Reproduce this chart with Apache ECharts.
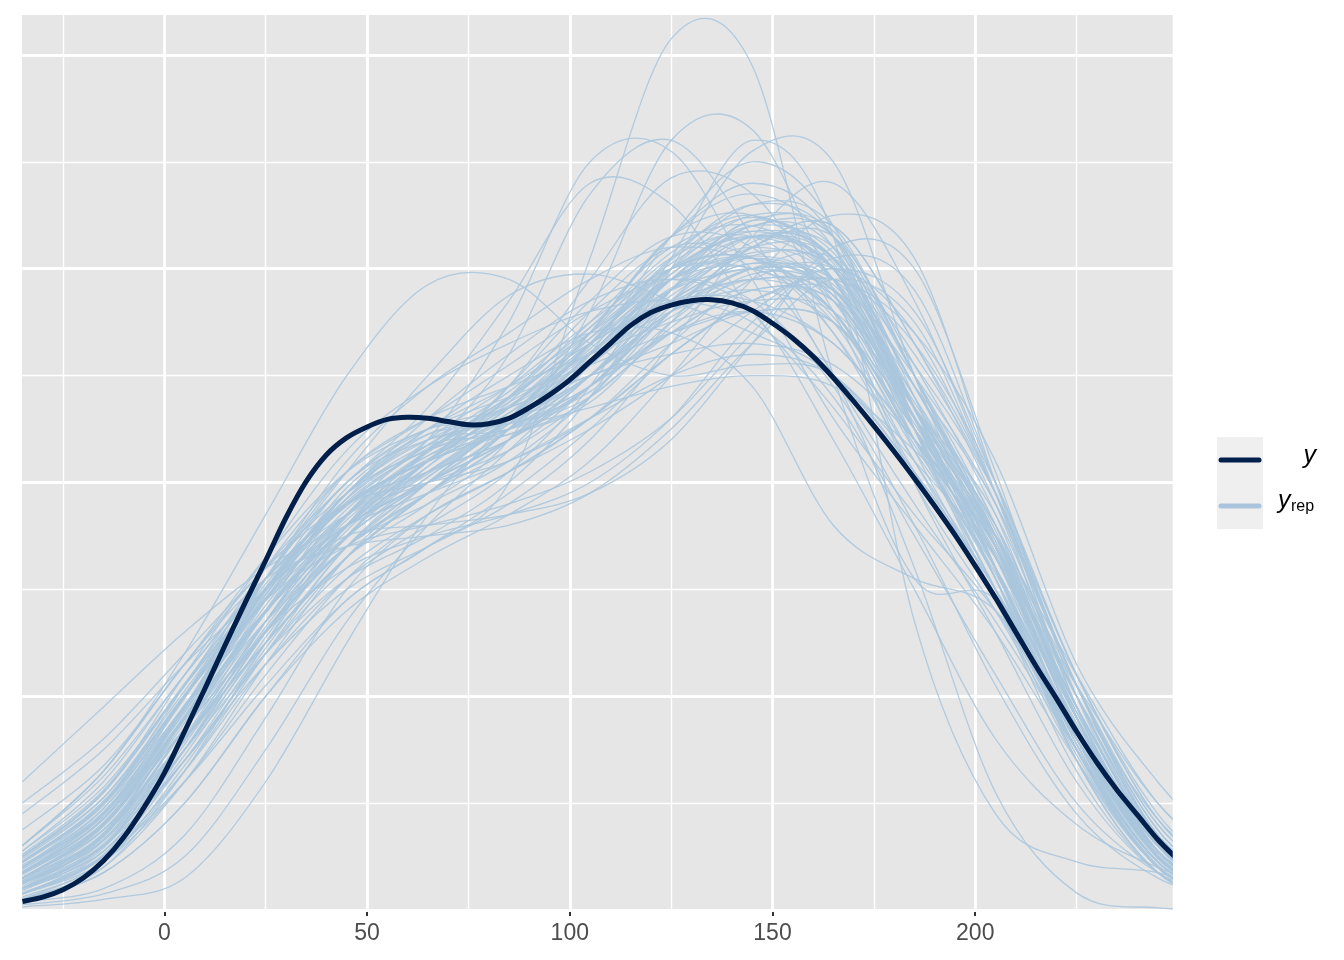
<!DOCTYPE html>
<html>
<head>
<meta charset="utf-8">
<title>y vs y_rep density overlay</title>
<script src="https://cdn.jsdelivr.net/npm/echarts@6/dist/echarts.min.js"></script>
<style>
    html, body { margin: 0; padding: 0; background: #ffffff; }
    #chart { width: 1344px; height: 960px; }
</style>
</head>
<body>
<div id="chart"></div>
<script>
// observed density (y), density x 1000, every 5 units
var xsY = [-35, -30, -25, -20, -15, -10, -5, 0, 5, 10, 15, 20, 25, 30, 35, 40, 45, 50, 55, 60,
    65, 70, 75, 80, 85, 90, 95, 100, 105, 110, 115, 120, 125, 130, 135, 140, 145, 150, 155, 160,
    165, 170, 175, 180, 185, 190, 195, 200, 205, 210, 215, 220, 225, 230, 235, 240, 245, 250];
var yObs = [0.08, 0.12, 0.19, 0.30, 0.46, 0.68, 0.96, 1.28, 1.67, 2.07, 2.48, 2.88, 3.27, 3.67, 4.01, 4.26, 4.42, 4.52, 4.59, 4.61,
    4.60, 4.57, 4.54, 4.55, 4.60, 4.70, 4.82, 4.96, 5.13, 5.30, 5.47, 5.59, 5.66, 5.70, 5.71, 5.68, 5.61, 5.49, 5.35, 5.18,
    4.98, 4.76, 4.53, 4.29, 4.04, 3.78, 3.51, 3.22, 2.92, 2.60, 2.28, 1.98, 1.67, 1.38, 1.12, 0.89, 0.66, 0.47];

// replicated densities (y_rep), every 20 units
var xsRep = [-35, -15, 5, 25, 45, 65, 85, 105, 125, 145, 165, 185, 205, 225, 245, 265];

var repCore = [
    [0.30, 0.80, 1.80, 2.80, 3.60, 4.10, 4.60, 5.30, 6.00, 6.30, 5.90, 4.50, 3.20, 1.70, 0.60, 0.15],
    [0.20, 0.60, 1.60, 2.70, 3.70, 4.30, 4.70, 5.20, 5.80, 6.10, 5.80, 4.60, 3.40, 1.80, 0.55, 0.10],
    [0.45, 1.00, 2.00, 3.00, 3.80, 4.20, 4.50, 5.00, 5.60, 5.90, 5.60, 4.40, 3.30, 1.80, 0.60, 0.15],
    [0.15, 0.50, 1.40, 2.50, 3.50, 4.20, 4.80, 5.50, 6.20, 6.40, 5.90, 4.40, 3.00, 1.50, 0.45, 0.08],
    [0.35, 0.90, 1.90, 3.00, 3.90, 4.40, 4.70, 5.00, 5.30, 5.60, 5.50, 4.60, 3.60, 2.00, 0.70, 0.15],
    [0.25, 0.70, 1.70, 2.90, 3.90, 4.50, 4.90, 5.40, 5.90, 6.00, 5.50, 4.20, 2.90, 1.50, 0.45, 0.08],
    [0.50, 1.10, 2.10, 3.10, 3.80, 4.10, 4.40, 4.90, 5.70, 6.30, 6.10, 4.70, 3.20, 1.50, 0.40, 0.07],
    [0.10, 0.45, 1.30, 2.40, 3.40, 4.00, 4.60, 5.40, 6.30, 6.70, 6.20, 4.60, 3.10, 1.50, 0.40, 0.06],
    [0.30, 0.80, 1.80, 2.90, 3.70, 4.10, 4.40, 4.90, 5.60, 6.20, 6.30, 5.10, 3.70, 1.80, 0.50, 0.08],
    [0.20, 0.65, 1.70, 2.80, 3.60, 4.20, 4.90, 5.70, 6.30, 6.20, 5.40, 4.10, 2.90, 1.60, 0.55, 0.12],
    [0.55, 1.20, 2.20, 3.10, 3.70, 4.00, 4.30, 4.80, 5.40, 5.80, 5.70, 4.70, 3.60, 2.00, 0.70, 0.15],
    [0.15, 0.55, 1.50, 2.60, 3.50, 4.10, 4.60, 5.20, 5.90, 6.40, 6.30, 4.80, 3.20, 1.50, 0.40, 0.06],
    [0.40, 0.95, 1.90, 2.90, 3.70, 4.30, 4.80, 5.30, 5.70, 5.70, 5.30, 4.40, 3.50, 2.10, 0.80, 0.20],
    [0.30, 0.75, 1.60, 2.50, 3.30, 3.90, 4.50, 5.30, 6.10, 6.60, 6.30, 4.70, 3.10, 1.40, 0.35, 0.05],
    [0.20, 0.70, 1.80, 3.00, 4.00, 4.40, 4.60, 5.00, 5.60, 6.00, 5.90, 4.70, 3.40, 1.70, 0.50, 0.10],
    [0.60, 1.30, 2.30, 3.20, 3.80, 4.00, 4.20, 4.60, 5.20, 5.70, 5.80, 4.90, 3.80, 2.10, 0.75, 0.15],
    [0.25, 0.70, 1.60, 2.60, 3.40, 3.80, 4.20, 4.80, 5.60, 6.20, 6.40, 5.30, 3.80, 1.90, 0.55, 0.08],
    [0.10, 0.40, 1.20, 2.30, 3.30, 4.00, 4.60, 5.30, 6.00, 6.50, 6.30, 5.00, 3.50, 1.70, 0.50, 0.08],
    [0.35, 0.85, 1.80, 2.80, 3.60, 4.20, 4.80, 5.60, 6.20, 6.10, 5.40, 4.20, 3.00, 1.60, 0.55, 0.12],
    [0.45, 1.00, 1.90, 2.80, 3.50, 4.00, 4.40, 5.00, 5.70, 6.20, 6.10, 4.90, 3.50, 1.80, 0.55, 0.10],
    [0.30, 0.70, 1.70, 2.70, 3.50, 4.00, 4.50, 5.10, 5.80, 6.30, 6.00, 4.70, 3.40, 1.70, 0.50, 0.08],
    [0.40, 0.90, 1.80, 2.70, 3.40, 3.90, 4.50, 5.30, 6.00, 6.10, 5.60, 4.40, 3.30, 1.80, 0.60, 0.12],
    [0.20, 0.60, 1.50, 2.60, 3.60, 4.30, 4.80, 5.30, 5.70, 5.90, 5.80, 4.70, 3.50, 1.80, 0.55, 0.10],
    [0.35, 0.80, 1.70, 2.60, 3.40, 4.00, 4.60, 5.40, 6.30, 6.80, 6.30, 4.50, 2.90, 1.30, 0.35, 0.05],
    [0.25, 0.70, 1.80, 3.00, 3.90, 4.30, 4.60, 5.10, 5.80, 6.30, 6.00, 4.50, 3.10, 1.60, 0.50, 0.10],
    [0.50, 1.05, 2.00, 2.90, 3.60, 4.00, 4.40, 5.00, 5.80, 6.40, 6.20, 4.70, 3.20, 1.50, 0.40, 0.06],
    [0.15, 0.50, 1.50, 2.70, 3.70, 4.40, 4.90, 5.50, 6.00, 6.00, 5.60, 4.40, 3.30, 1.80, 0.60, 0.12],
    [0.30, 0.75, 1.60, 2.50, 3.30, 3.90, 4.50, 5.20, 5.90, 6.30, 6.10, 4.90, 3.60, 1.80, 0.50, 0.08],
    [0.40, 0.95, 2.00, 3.10, 4.00, 4.50, 4.80, 5.10, 5.40, 5.60, 5.50, 4.50, 3.50, 2.00, 0.70, 0.15],
    [0.20, 0.55, 1.40, 2.40, 3.30, 3.90, 4.40, 5.10, 6.00, 6.60, 6.40, 5.00, 3.40, 1.60, 0.45, 0.07],
    [0.60, 1.25, 2.20, 3.10, 3.80, 4.20, 4.50, 4.90, 5.40, 5.80, 5.70, 4.60, 3.50, 1.90, 0.65, 0.12],
    [0.10, 0.40, 1.30, 2.50, 3.60, 4.30, 4.80, 5.40, 6.00, 6.30, 6.00, 4.70, 3.40, 1.70, 0.50, 0.08],
    [0.35, 0.85, 1.90, 3.00, 3.80, 4.20, 4.50, 5.00, 5.70, 6.00, 5.70, 4.50, 3.40, 1.90, 0.65, 0.15],
    [0.25, 0.65, 1.60, 2.70, 3.60, 4.20, 4.70, 5.30, 5.90, 6.20, 5.90, 4.60, 3.30, 1.60, 0.45, 0.07],
    [0.45, 1.00, 2.00, 3.00, 3.70, 4.10, 4.60, 5.40, 6.30, 6.50, 5.90, 4.30, 2.90, 1.40, 0.40, 0.06],
    [0.30, 0.80, 1.90, 3.10, 4.10, 4.60, 4.90, 5.20, 5.50, 5.70, 5.60, 4.70, 3.70, 2.00, 0.65, 0.12],
    [0.20, 0.60, 1.50, 2.60, 3.40, 3.90, 4.30, 4.90, 5.60, 6.20, 6.40, 5.30, 3.90, 1.90, 0.55, 0.08],
    [0.55, 1.15, 2.10, 3.00, 3.60, 4.00, 4.50, 5.20, 5.90, 6.10, 5.60, 4.30, 3.20, 1.80, 0.60, 0.12]
];

var repCore2 = [
    [0.28, 0.75, 1.75, 2.85, 3.75, 4.25, 4.65, 5.15, 5.75, 6.15, 6.00, 4.80, 3.40, 1.70, 0.50, 0.08],
    [0.38, 0.88, 1.85, 2.95, 3.95, 4.45, 4.55, 4.85, 5.50, 6.00, 5.80, 4.60, 3.30, 1.75, 0.60, 0.12],
    [0.18, 0.58, 1.55, 2.65, 3.55, 4.15, 4.65, 5.25, 5.95, 6.35, 6.10, 4.70, 3.20, 1.55, 0.45, 0.07],
    [0.48, 1.05, 2.05, 3.05, 3.85, 4.35, 4.75, 5.20, 5.60, 5.80, 5.50, 4.50, 3.40, 1.90, 0.65, 0.12],
    [0.22, 0.68, 1.70, 2.80, 3.70, 4.25, 4.45, 4.80, 5.80, 6.45, 6.05, 4.60, 3.10, 1.50, 0.42, 0.06],
    [0.33, 0.82, 1.82, 2.92, 3.82, 4.32, 4.72, 5.22, 5.82, 6.12, 5.82, 4.62, 3.32, 1.72, 0.55, 0.10],
    [0.42, 0.92, 1.92, 2.92, 3.70, 4.20, 4.70, 5.40, 6.10, 6.30, 5.70, 4.40, 3.10, 1.60, 0.50, 0.09],
    [0.26, 0.72, 1.80, 2.95, 3.85, 4.35, 4.45, 4.75, 5.50, 6.25, 6.20, 5.00, 3.60, 1.80, 0.52, 0.08],
    [0.16, 0.52, 1.45, 2.55, 3.50, 4.15, 4.75, 5.45, 6.15, 6.50, 6.00, 4.50, 3.00, 1.45, 0.40, 0.06],
    [0.52, 1.12, 2.12, 3.10, 3.80, 4.20, 4.55, 5.00, 5.55, 5.90, 5.75, 4.70, 3.45, 1.85, 0.62, 0.12],
    [0.24, 0.66, 1.62, 2.80, 3.85, 4.45, 4.60, 4.90, 5.60, 6.12, 6.02, 4.90, 3.55, 1.80, 0.55, 0.09],
    [0.36, 0.86, 1.86, 2.95, 3.80, 4.35, 4.85, 5.45, 6.00, 6.10, 5.55, 4.35, 3.15, 1.70, 0.55, 0.10],
    [0.12, 0.45, 1.35, 2.45, 3.40, 4.05, 4.55, 5.15, 5.90, 6.45, 6.35, 5.00, 3.40, 1.60, 0.45, 0.07],
    [0.44, 0.98, 1.98, 3.10, 4.00, 4.50, 4.55, 4.80, 5.45, 5.95, 5.80, 4.75, 3.50, 1.90, 0.65, 0.13],
    [0.30, 0.78, 1.78, 2.80, 3.65, 4.20, 4.70, 5.35, 6.05, 6.35, 6.00, 4.60, 3.20, 1.60, 0.48, 0.08],
    [0.20, 0.62, 1.58, 2.62, 3.48, 4.05, 4.55, 5.20, 5.95, 6.40, 6.15, 4.90, 3.45, 1.70, 0.50, 0.08],
    [0.40, 0.90, 1.88, 2.98, 3.90, 4.40, 4.50, 4.90, 5.65, 6.05, 5.75, 4.55, 3.35, 1.80, 0.60, 0.12],
    [0.27, 0.72, 1.70, 2.78, 3.68, 4.28, 4.78, 5.35, 5.90, 6.10, 5.75, 4.50, 3.20, 1.65, 0.50, 0.09],
    [0.34, 0.82, 1.78, 2.78, 3.58, 4.08, 4.58, 5.28, 6.08, 6.48, 6.08, 4.68, 3.18, 1.55, 0.45, 0.07],
    [0.46, 1.02, 2.02, 3.02, 3.78, 4.22, 4.60, 5.10, 5.70, 6.05, 5.85, 4.80, 3.50, 1.85, 0.60, 0.11]
];

// draws with a sharp peak
var repPeaked = [
    [0.10, 0.35, 1.00, 2.00, 2.90, 3.40, 4.00, 6.10, 8.15, 7.90, 5.00, 3.10, 2.90, 1.50, 0.40, 0.05],
    [0.20, 0.60, 1.50, 2.50, 3.30, 3.80, 4.40, 5.60, 7.20, 7.30, 5.80, 4.00, 2.60, 1.20, 0.35, 0.05],
    [0.30, 0.80, 1.90, 3.00, 3.80, 4.40, 5.50, 7.00, 7.10, 5.90, 4.60, 3.60, 2.60, 1.40, 0.40, 0.06],
    [0.20, 0.60, 1.60, 2.70, 3.60, 4.30, 5.20, 6.70, 7.20, 6.30, 5.00, 3.80, 2.70, 1.50, 0.45, 0.08],
    [0.15, 0.50, 1.30, 2.30, 3.10, 3.60, 4.10, 4.90, 6.10, 7.20, 6.30, 2.70, 0.90, 0.45, 0.35, 0.10],
    [0.25, 0.65, 1.50, 2.40, 3.10, 3.50, 4.00, 4.80, 6.00, 7.10, 7.00, 5.00, 3.20, 1.40, 0.35, 0.05],
    [0.20, 0.55, 1.40, 2.30, 3.00, 3.40, 3.80, 4.40, 5.30, 6.30, 6.80, 5.70, 3.90, 1.80, 0.50, 0.07],
    [0.30, 0.70, 1.60, 2.60, 3.40, 3.90, 4.40, 5.20, 6.30, 7.00, 6.40, 4.50, 3.00, 1.50, 0.40, 0.06],
    [0.35, 0.85, 1.80, 2.80, 3.60, 4.20, 4.90, 5.90, 6.85, 6.70, 5.60, 4.00, 2.80, 1.50, 0.45, 0.08],
    [0.40, 1.00, 2.10, 3.20, 4.00, 4.70, 5.70, 6.80, 6.60, 5.60, 4.70, 3.70, 2.80, 1.60, 0.50, 0.10],
    [0.60, 1.30, 2.40, 3.70, 5.00, 5.85, 5.90, 5.30, 5.00, 5.10, 5.00, 4.10, 3.00, 1.70, 0.60, 0.15],
    [0.30, 0.80, 1.90, 3.10, 4.10, 5.00, 5.75, 5.95, 5.70, 5.40, 5.00, 4.10, 3.00, 1.60, 0.50, 0.10]
];

// draws with more mass on the left / wide tails
var repLeft = [
    [1.20, 1.90, 2.60, 3.20, 3.60, 3.90, 4.20, 4.60, 5.00, 5.20, 5.00, 4.20, 3.30, 2.10, 1.00, 0.35],
    [1.00, 1.60, 2.40, 3.20, 3.90, 4.30, 4.50, 4.70, 4.90, 5.00, 4.90, 4.30, 3.50, 2.20, 1.00, 0.35],
    [0.90, 1.50, 2.30, 3.00, 3.60, 4.00, 4.40, 4.90, 5.40, 5.60, 5.30, 4.40, 3.40, 2.00, 0.85, 0.25],
    [0.75, 1.35, 2.30, 3.30, 4.10, 4.50, 4.70, 5.00, 5.20, 5.30, 5.10, 4.40, 3.40, 1.90, 0.70, 0.15],
    [0.40, 0.90, 1.90, 3.00, 3.90, 4.60, 5.20, 5.70, 5.90, 5.60, 4.40, 3.00, 1.60, 0.80, 0.40, 0.15],
    [0.30, 0.80, 1.90, 3.10, 4.20, 4.90, 5.40, 5.90, 6.20, 6.00, 5.00, 3.20, 1.10, 0.16, 0.02, 0.00],
    [0.35, 0.90, 2.00, 3.20, 4.10, 4.60, 5.10, 5.60, 5.90, 5.70, 4.90, 3.60, 2.10, 0.90, 0.30, 0.05],
    [0.50, 1.10, 2.20, 3.30, 4.30, 4.90, 5.30, 5.60, 5.70, 5.50, 4.80, 3.50, 2.20, 1.00, 0.35, 0.07],
    [0.40, 0.90, 1.90, 3.00, 3.90, 4.50, 5.00, 5.40, 5.40, 4.90, 3.60, 3.10, 2.80, 1.60, 0.55, 0.10]
];

// draws with more mass on the right
var repRight = [
    [0.03, 0.10, 0.30, 1.20, 2.50, 3.70, 4.60, 5.30, 5.80, 6.00, 5.90, 5.00, 3.80, 2.10, 0.80, 0.20],
    [0.05, 0.15, 0.50, 1.50, 2.70, 3.60, 4.30, 5.00, 5.60, 6.00, 6.10, 5.20, 3.90, 2.10, 0.75, 0.15],
    [0.08, 0.20, 0.70, 1.80, 3.00, 3.70, 4.10, 4.60, 5.30, 5.90, 6.00, 5.10, 3.90, 2.20, 0.85, 0.20],
    [0.20, 0.50, 1.20, 2.10, 2.90, 3.40, 3.90, 4.50, 5.20, 5.70, 5.90, 5.40, 4.20, 2.30, 1.20, 0.40],
    [0.15, 0.45, 1.20, 2.20, 3.10, 3.70, 4.10, 4.50, 5.00, 5.60, 6.00, 5.60, 4.00, 2.20, 0.90, 0.20],
    [0.25, 0.60, 1.40, 2.40, 3.20, 3.70, 4.10, 4.60, 5.20, 5.70, 5.90, 5.30, 4.00, 2.20, 0.85, 0.20],
    [0.10, 0.35, 1.00, 2.00, 2.80, 3.30, 3.70, 4.20, 5.00, 5.90, 6.50, 6.10, 4.00, 1.90, 0.50, 0.06],
    [0.45, 1.00, 2.00, 2.90, 3.40, 3.60, 3.80, 4.10, 4.60, 5.40, 6.10, 5.80, 4.00, 2.10, 0.70, 0.10],
    [0.50, 1.10, 2.10, 3.00, 3.50, 3.60, 3.70, 3.90, 4.40, 5.30, 6.20, 6.00, 4.10, 2.00, 0.60, 0.08],
    [0.30, 0.80, 1.70, 2.60, 3.20, 3.50, 3.70, 4.00, 4.60, 5.50, 6.00, 5.40, 3.90, 2.10, 0.75, 0.15],
    [0.60, 1.30, 2.30, 3.10, 3.40, 3.50, 3.60, 3.90, 4.50, 5.30, 5.90, 5.50, 3.90, 2.10, 0.70, 0.10]
];

// axis ticks / gridlines
var xTicks = [0, 50, 100, 150, 200];
var xMinor = [-25, 25, 75, 125, 175, 225];
var yMajor = [0, 2, 4, 6, 8];
var yMinor = [1, 3, 5, 7];

var fontFam = '"Liberation Sans", Arial, Helvetica, sans-serif';

function pairs(xs, ys) {
    var out = [];
    for (var i = 0; i < xs.length; i++) {
        out.push([xs[i], ys[i]]);
    }
    return out;
}

// catmull-rom through the pixel points -> svg path
function splinePath(pts) {
    var d = 'M' + pts[0][0] + ' ' + pts[0][1];
    for (var i = 0; i < pts.length - 1; i++) {
        var p0 = pts[i - 1] || pts[i];
        var p1 = pts[i];
        var p2 = pts[i + 1];
        var p3 = pts[i + 2] || p2;
        var c1x = p1[0] + (p2[0] - p0[0]) / 6, c1y = p1[1] + (p2[1] - p0[1]) / 6;
        var c2x = p2[0] - (p3[0] - p1[0]) / 6, c2y = p2[1] - (p3[1] - p1[1]) / 6;
        d += ' C' + c1x + ' ' + c1y + ' ' + c2x + ' ' + c2y + ' ' + p2[0] + ' ' + p2[1];
    }
    return d;
}

function curveSeries(xs, ys, color, width, opacity, z) {
    return {
        type: 'custom',
        coordinateSystem: 'cartesian2d',
        data: pairs(xs, ys),
        encode: { x: 0, y: 1 },
        silent: true,
        z: z,
        renderItem: function (params, api) {
            if (params.dataIndexInside !== 0) {
                return null;
            }
            var pts = [];
            for (var i = 0; i < params.dataInsideLength; i++) {
                pts.push(api.coord([api.value(0, i), api.value(1, i)]));
            }
            var cs = params.coordSys;
            return {
                type: 'path',
                shape: { pathData: splinePath(pts) },
                style: { fill: 'none', stroke: color, lineWidth: width, opacity: opacity, lineJoin: 'round' },
                clipPath: { type: 'rect', shape: { x: cs.x, y: cs.y, width: cs.width, height: cs.height } }
            };
        }
    };
}

function gridSeries(xv, yv, w) {
    var items = [];
    xv.forEach(function (v) { items.push({ xAxis: v }); });
    yv.forEach(function (v) { items.push({ yAxis: v }); });
    return {
        type: 'line',
        data: [],
        silent: true,
        z: 1,
        markLine: {
            silent: true,
            symbol: ['none', 'none'],
            z: 1,
            animation: false,
            label: { show: false },
            emphasis: { disabled: true },
            lineStyle: { color: '#ffffff', width: w, type: 'solid' },
            data: items
        }
    };
}

var series = [];
// gridlines first (under everything)
series.push(gridSeries(xMinor, yMinor, 1.4));
series.push(gridSeries(xTicks, yMajor, 2.8));

// y_rep lines
var allRep = repCore.concat(repCore2, repPeaked, repLeft, repRight);
allRep.forEach(function (vals) {
    series.push(curveSeries(xsRep, vals, '#aac6dd', 1.3, 0.88, 2));
});

// observed y on top
series.push(curveSeries(xsY, yObs, '#011f4b', 5, 1, 3));

var myChart = echarts.init(document.getElementById('chart'));
var option = {
    animation: false,
    backgroundColor: '#ffffff',
    grid: {
        left: 22,
        top: 15,
        width: 1150.7,
        height: 895,
        show: true,
        backgroundColor: '#e6e6e6',
        borderWidth: 0,
        outerBoundsMode: 'none'
    },
    xAxis: {
        type: 'value',
        min: -35.1,
        max: 248.7,
        axisLine: { show: false },
        splitLine: { show: false },
        axisTick: {
            show: true,
            customValues: xTicks,
            length: 6,
            lineStyle: { color: '#333333', width: 2 }
        },
        axisLabel: {
            customValues: xTicks,
            color: '#4d4d4d',
            fontSize: 23,
            fontFamily: fontFam,
            margin: 12
        }
    },
    yAxis: {
        type: 'value',
        min: 0,
        max: 8.374,
        show: false,
        splitLine: { show: false }
    },
    series: series,
    graphic: [
        // legend keys
        { type: 'rect', shape: { x: 1217, y: 437, width: 46, height: 92 }, style: { fill: '#efefef' } },
        { type: 'line', shape: { x1: 1221, y1: 460, x2: 1259, y2: 460 }, style: { stroke: '#011f4b', lineWidth: 5, lineCap: 'round' } },
        { type: 'line', shape: { x1: 1221, y1: 506, x2: 1259, y2: 506 }, style: { stroke: '#a9c4dc', lineWidth: 5, lineCap: 'round' } },
        // legend labels
        { type: 'text', style: { text: 'y', x: 1316, y: 456, align: 'right', verticalAlign: 'middle',
            font: 'italic 25px ' + fontFam, fill: '#000000' } },
        { type: 'text', style: { text: 'y', x: 1278, y: 501, align: 'left', verticalAlign: 'middle',
            font: 'italic 25px ' + fontFam, fill: '#000000' } },
        { type: 'text', style: { text: 'rep', x: 1291, y: 507, align: 'left', verticalAlign: 'middle',
            font: '16px ' + fontFam, fill: '#000000' } }
    ]
};
myChart.setOption(option);
</script>
</body>
</html>
